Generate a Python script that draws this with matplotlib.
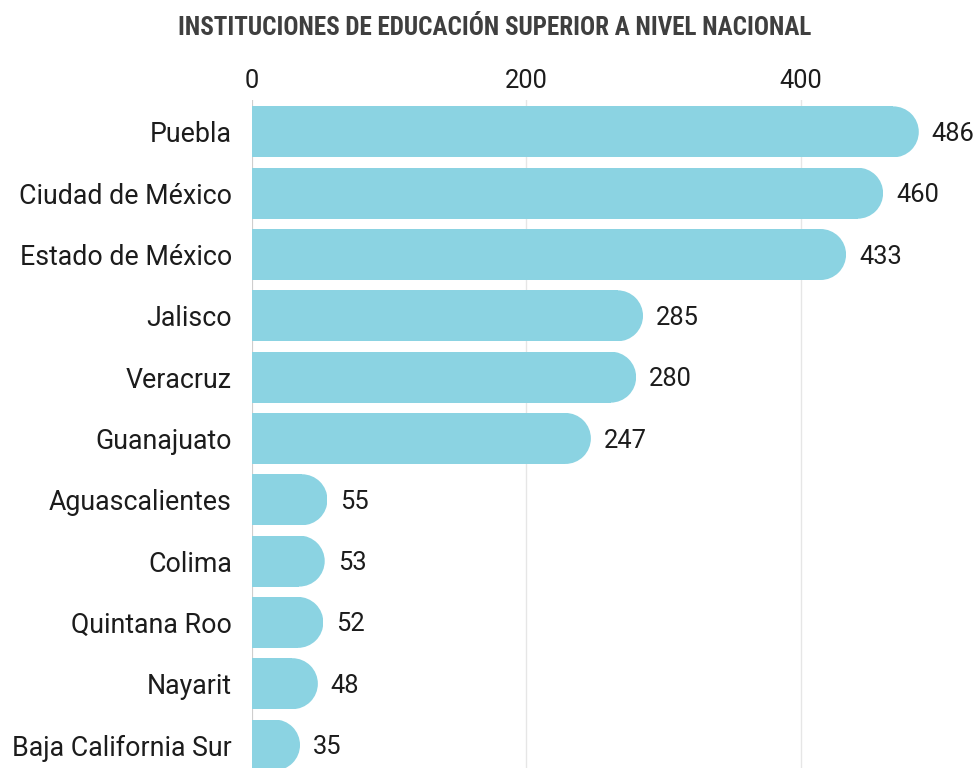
import matplotlib
matplotlib.use("Agg")
import matplotlib.pyplot as plt
from matplotlib import font_manager as fm
from matplotlib.patches import Rectangle, Ellipse

# ---- data ----
states = ["Puebla", "Ciudad de México", "Estado de México", "Jalisco", "Veracruz",
          "Guanajuato", "Aguascalientes", "Colima", "Quintana Roo", "Nayarit",
          "Baja California Sur"]
values = [486, 460, 433, 285, 280, 247, 55, 53, 52, 48, 35]
xticks = [0, 200, 400]
title = "INSTITUCIONES DE EDUCACIÓN SUPERIOR A NIVEL NACIONAL"

BAR_COLOR = "#8bd3e2"
TEXT_COLOR = "#1c1c1c"
TITLE_COLOR = "#3f3f3f"


def has_font(name):
    try:
        fm.findfont(fm.FontProperties(family=name), fallback_to_default=False)
        return True
    except Exception:
        return False


body_font = next(f for f in ["Roboto", "Lato", "DejaVu Sans"] if has_font(f))
title_font = next(f for f in ["Liberation Sans Narrow", "Roboto Condensed", "Roboto", "DejaVu Sans"] if has_font(f))

W, H = 980, 768
fig = plt.figure(figsize=(W / 100, H / 100), dpi=100)
fig.patch.set_facecolor("white")
fig.canvas.draw()
renderer = fig.canvas.get_renderer()


def fit_size(text, target_px, family, weight="normal", base=20):
    t = fig.text(0, 0, text, fontsize=base, family=family, weight=weight)
    w = t.get_window_extent(renderer).width
    t.remove()
    return base * target_px / w


label_size = fit_size("Baja California Sur", 220, body_font)
num_size = fit_size("486", 43, body_font)
title_size = fit_size(title, 634, title_font, weight="bold")

# axes: x 0..500 spans pixels 252..938 ; top at pixel 100, bottom at 768
ax = fig.add_axes([252 / W, 0, 686 / W, 668 / H])
ax.set_xlim(0, 500)
ax.set_ylim(10.375, -0.52)

px_per_x = 686 / 500
px_per_y = 668 / (10.375 + 0.52)
h = 51 / px_per_y
rx = 25.5 / px_per_x

for i, v in enumerate(values):
    y0 = i - h / 2
    clip = Rectangle((0, y0), v, h, transform=ax.transData)
    rect = Rectangle((0, y0), max(v - rx, 0), h, facecolor=BAR_COLOR,
                     edgecolor="none", zorder=2)
    ell = Ellipse((v - rx, i), 2 * rx, h, facecolor=BAR_COLOR,
                  edgecolor="none", zorder=2)
    ax.add_patch(rect)
    ax.add_patch(ell)
    ell.set_clip_path(clip)
    ax.annotate(str(v), (v, i), xytext=(13 * 0.72, -1.5), textcoords="offset points",
                ha="left", va="center", fontsize=num_size, family=body_font,
                color=TEXT_COLOR, annotation_clip=False)

ax.set_yticks(range(len(states)))
ax.set_yticklabels(states, fontsize=label_size, family=body_font, color=TEXT_COLOR)
ax.set_xticks(xticks)
ax.set_xticklabels([str(t) for t in xticks], fontsize=num_size, family=body_font,
                   color=TEXT_COLOR)
ax.xaxis.tick_top()
ax.tick_params(axis="y", length=0, pad=20 * 0.72)
ax.tick_params(axis="x", length=0, pad=7 * 0.72)

for s in ax.spines.values():
    s.set_visible(False)

ax.grid(axis="x", color="#e6e6e6", linewidth=1.0, zorder=0)
ax.axvline(0, color="#cccccc", linewidth=1.3, zorder=1)
ax.set_axisbelow(True)

fig.text(494.5 / W, 1 - 28 / H, title, ha="center", va="center",
         fontsize=title_size, family=title_font, weight="bold", color=TITLE_COLOR)

fig.savefig("out.png", dpi=100, facecolor="white")
